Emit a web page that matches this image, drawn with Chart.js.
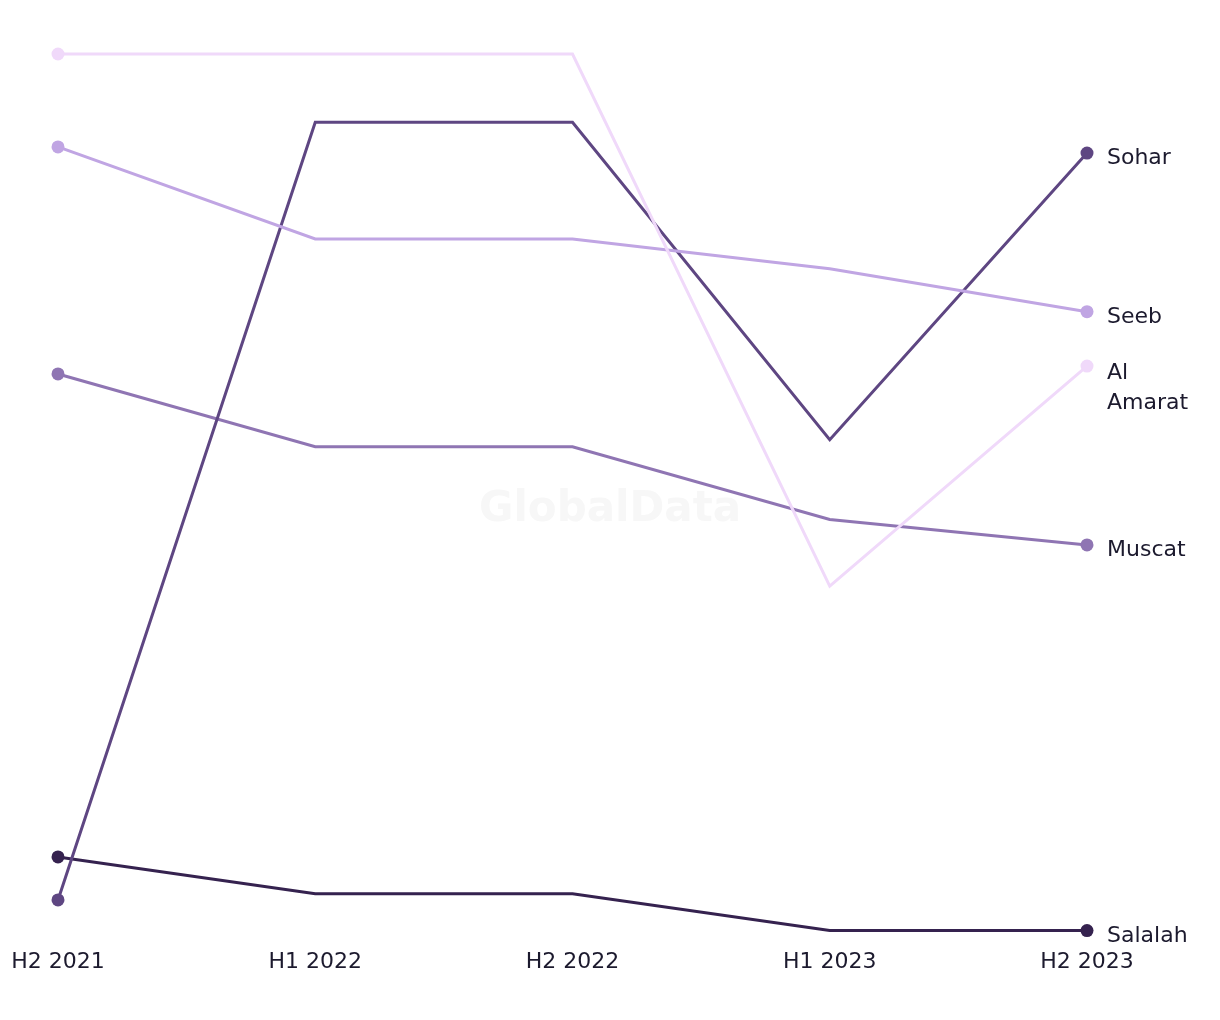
<!DOCTYPE html>
<html>
<head>
<meta charset="utf-8">
<script src="https://cdn.jsdelivr.net/npm/chart.js@4.4.0/dist/chart.umd.min.js"></script>
<style>
html,body{margin:0;padding:0;background:#fff;}
#wrap{width:1220px;height:1020px;position:relative;}
</style>
</head>
<body>
<div id="wrap"><canvas id="c" width="1220" height="1020"></canvas></div>
<script>
const categories = ["H2 2021", "H1 2022", "H2 2022", "H1 2023", "H2 2023"];
const seriesNames = ["Al Amarat", "Seeb", "Sohar", "Muscat", "Salalah"];
const alAmarat = [100, 100, 100, 39.3, 64.4];
const seeb = [89.4, 78.9, 78.9, 75.5, 70.6];
const sohar = [3.5, 92.2, 92.2, 56.0, 88.7];
const muscat = [63.5, 55.2, 55.2, 46.9, 44.0];
const salalah = [8.4, 4.2, 4.2, 0, 0];
const seriesColors = ["#f0d9fa", "#c0a5e3", "#5e4682", "#8f75b3", "#35224f"];
const labelLines = [["Al", "Amarat"], ["Seeb"], ["Sohar"], ["Muscat"], ["Salalah"]];

const FONT = "'DejaVu Sans', sans-serif";
const TEXT = "#1c1a2e";

const allData = [alAmarat, seeb, sohar, muscat, salalah];
const datasets = allData.map((d, i) => ({
  label: seriesNames[i],
  data: d,
  borderColor: seriesColors[i],
  backgroundColor: seriesColors[i],
  pointBackgroundColor: seriesColors[i],
  pointBorderWidth: 0,
  borderWidth: 3,
  tension: 0,
  fill: false,
  clip: false,
  pointRadius: ctx => (ctx.dataIndex === 0 || ctx.dataIndex === d.length - 1) ? 6.5 : 0,
  pointHoverRadius: 6.5
}));

const watermark = {
  id: 'watermark',
  beforeDatasetsDraw(chart) {
    const c = chart.ctx;
    c.save();
    c.font = "bold 42px " + FONT;
    c.fillStyle = "#f7f7f7";
    c.textAlign = "center";
    c.textBaseline = "middle";
    c.fillText("GlobalData", 610, 510);
    c.restore();
  }
};

const endLabels = {
  id: 'endLabels',
  afterDatasetsDraw(chart) {
    const c = chart.ctx;
    c.save();
    c.font = "22px " + FONT;
    c.fillStyle = TEXT;
    c.textAlign = "left";
    c.textBaseline = "middle";
    chart.data.datasets.forEach((ds, i) => {
      const meta = chart.getDatasetMeta(i);
      const pt = meta.data[meta.data.length - 1];
      const lines = labelLines[i];
      lines.forEach((ln, j) => {
        c.fillText(ln, pt.x + 20, pt.y + (lines.length > 1 ? 7 : 5.5) + j * 30);
      });
    });
    c.restore();
  }
};

new Chart(document.getElementById('c'), {
  type: 'line',
  data: { labels: categories, datasets },
  plugins: [watermark, endLabels],
  options: {
    responsive: false,
    animation: false,
    layout: { padding: { left: 58, right: 133, top: 54, bottom: 27 } },
    plugins: { legend: { display: false }, tooltip: { enabled: false } },
    scales: {
      x: {
        offset: false,
        grid: { display: false, drawTicks: false },
        border: { display: false },
        ticks: { color: TEXT, font: { family: FONT, size: 22 }, padding: 18, maxRotation: 0, autoSkip: false },
        afterFit: (scale) => { scale.paddingLeft = 0; scale.paddingRight = 0; }
      },
      y: {
        display: false,
        min: 0,
        max: 100
      }
    }
  }
});
</script>
</body>
</html>
